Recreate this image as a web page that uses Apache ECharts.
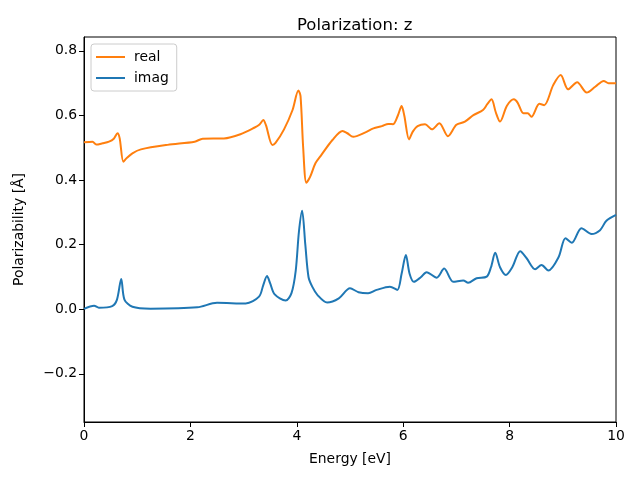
<!DOCTYPE html>
<html>
<head>
<meta charset="utf-8">
<script src="https://cdn.jsdelivr.net/npm/echarts@6/dist/echarts.min.js"></script>
<style>html,body{margin:0;padding:0;background:#fff}#c{width:640px;height:480px}</style>
</head>
<body>
<div id="c"></div>
<script>
const realX = [0,0.16,0.23,0.35,0.47,0.56,0.63,0.67,0.74,0.80,0.91,1.07,1.57,2.08,2.23,2.63,2.94,3.20,3.30,3.37,3.42,3.54,3.60,3.76,3.92,4.03,4.07,4.12,4.18,4.25,4.35,4.45,4.67,4.86,4.95,5.06,5.28,5.44,5.60,5.72,5.81,5.90,5.97,6.02,6.11,6.18,6.27,6.41,6.54,6.68,6.84,7.00,7.16,7.32,7.50,7.58,7.66,7.74,7.82,7.95,8.08,8.15,8.26,8.34,8.41,8.56,8.65,8.82,8.96,9.10,9.27,9.45,9.61,9.77,9.86,10];
const realY = [0.517,0.519,0.510,0.514,0.519,0.528,0.545,0.530,0.457,0.468,0.483,0.495,0.509,0.519,0.528,0.529,0.542,0.562,0.572,0.586,0.570,0.509,0.515,0.557,0.617,0.677,0.660,0.500,0.392,0.410,0.452,0.475,0.524,0.552,0.545,0.534,0.547,0.560,0.567,0.574,0.573,0.600,0.629,0.600,0.526,0.550,0.567,0.573,0.557,0.576,0.536,0.571,0.581,0.601,0.617,0.635,0.650,0.610,0.581,0.630,0.650,0.640,0.607,0.607,0.596,0.636,0.632,0.694,0.725,0.681,0.703,0.671,0.689,0.707,0.700,0.700];
const imagX = [0,0.19,0.28,0.53,0.62,0.70,0.76,0.91,1.25,2.13,2.50,3.04,3.29,3.37,3.44,3.50,3.58,3.79,3.90,3.98,4.04,4.10,4.16,4.22,4.29,4.39,4.57,4.79,5.00,5.16,5.34,5.50,5.75,5.89,5.97,6.05,6.12,6.20,6.33,6.44,6.63,6.77,6.94,7.13,7.22,7.38,7.57,7.65,7.73,7.82,7.93,8.05,8.20,8.32,8.48,8.60,8.73,8.92,9.05,9.17,9.35,9.54,9.70,9.82,10];
const imagY = [0.001,0.011,0.005,0.010,0.030,0.094,0.030,0.008,0.002,0.006,0.020,0.018,0.039,0.075,0.103,0.080,0.047,0.027,0.050,0.120,0.240,0.305,0.200,0.100,0.070,0.044,0.021,0.034,0.065,0.053,0.050,0.060,0.070,0.060,0.110,0.168,0.110,0.085,0.099,0.115,0.098,0.126,0.085,0.089,0.082,0.096,0.101,0.130,0.175,0.130,0.106,0.130,0.180,0.158,0.124,0.137,0.120,0.161,0.220,0.206,0.251,0.233,0.245,0.274,0.292];
const xTicks = [0,2,4,6,8,10];
const yTicks = [-0.2,0,0.2,0.4,0.6,0.8];
const seriesNames = ['real','imag'];

const pairs = (xs, ys) => xs.map((x, i) => [x, ys[i]]);
const FONT = 'DejaVu Sans';
const fmtY = v => v.toFixed(1).replace('-', '\u2212');

const chart = echarts.init(document.getElementById('c'), null, {renderer: 'canvas'});
chart.setOption({
  animation: false,
  backgroundColor: '#ffffff',
  textStyle: {fontFamily: FONT},
  title: {
    text: 'Polarization: z',
    left: 292, top: 12,
    textStyle: {fontFamily: FONT, fontSize: 16.5, fontWeight: 'normal', color: '#000'}
  },
  legend: {
    orient: 'vertical',
    left: 91, top: 44,
    padding: [6, 8, 6, 5],
    itemGap: 7,
    itemWidth: 29, itemHeight: 2,
    icon: 'rect',
    borderColor: '#cccccc', borderWidth: 1, borderRadius: 3,
    backgroundColor: 'rgba(255,255,255,0.8)',
    textStyle: {fontFamily: FONT, fontSize: 13.9, color: '#000', padding: [0, 0, 0, 4]},
    data: seriesNames
  },
  grid: {
    left: 84, right: 24, top: 37, bottom: 58,
    show: true, borderColor: '#000', borderWidth: 1, backgroundColor: 'transparent',
    containLabel: false
  },
  xAxis: {
    type: 'value', min: 0, max: 10, interval: 2,
    name: 'Energy [eV]', nameLocation: 'middle', nameGap: 30,
    nameTextStyle: {fontFamily: FONT, fontSize: 13.9, color: '#000'},
    axisLine: {show: true, onZero: false, lineStyle: {color: '#000', width: 1}},
    axisTick: {show: true, length: 5, lineStyle: {color: '#000'}},
    axisLabel: {fontFamily: FONT, fontSize: 13.9, color: '#000', margin: 7, customValues: xTicks},
    splitLine: {show: false}
  },
  yAxis: {
    type: 'value', min: -0.349, max: 0.843,
    name: 'Polarizability [Å]', nameLocation: 'middle', nameGap: 58,
    nameTextStyle: {fontFamily: FONT, fontSize: 13.9, color: '#000'},
    axisLine: {show: true, onZero: false, lineStyle: {color: '#000', width: 1}},
    axisTick: {show: true, length: 5, lineStyle: {color: '#000'}, customValues: yTicks},
    axisLabel: {fontFamily: FONT, fontSize: 13.9, color: '#000', margin: 7, customValues: yTicks, formatter: fmtY},
    splitLine: {show: false}
  },
  series: [
    {name: seriesNames[0], type: 'line', data: pairs(realX, realY), showSymbol: false, smooth: 0.3,
     lineStyle: {color: '#ff7f0e', width: 2}, itemStyle: {color: '#ff7f0e'}},
    {name: seriesNames[1], type: 'line', data: pairs(imagX, imagY), showSymbol: false, smooth: 0.3,
     lineStyle: {color: '#1f77b4', width: 2}, itemStyle: {color: '#1f77b4'}}
  ]
});
</script>
</body>
</html>
